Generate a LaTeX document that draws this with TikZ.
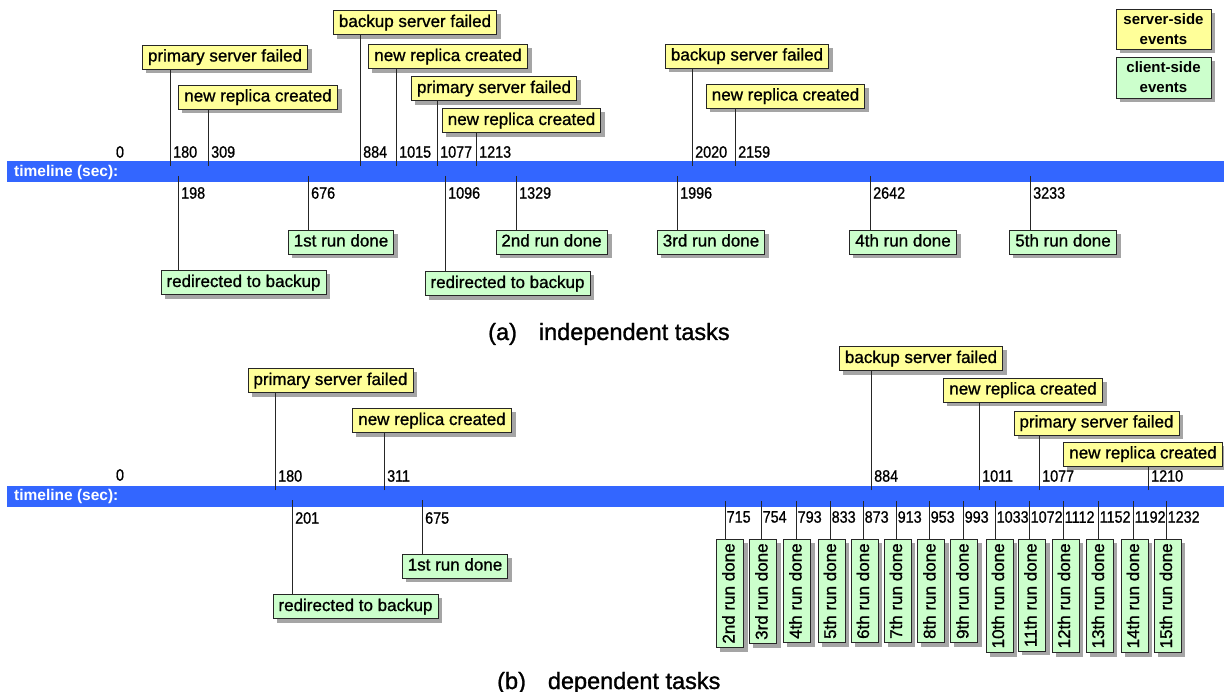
\documentclass[tikz,border=0pt]{standalone}
\usepackage{fontspec}
\setmainfont{Liberation Sans}
\newfontfamily\boxfam[FakeBold=1.0]{Liberation Sans}
\newfontfamily\numfam[FakeBold=0.9,FakeStretch=0.87]{Liberation Sans}
\newfontfamily\capfam[FakeBold=1.2]{Liberation Sans}
\usetikzlibrary{calc}
\definecolor{barblue}{RGB}{51,102,255}
\definecolor{srvyel}{RGB}{255,255,153}
\definecolor{cligrn}{RGB}{204,255,204}
\definecolor{shadowgray}{RGB}{165,165,165}
\newcommand\boxfnt{\boxfam\fontsize{17}{19}\selectfont}
\newcommand\numfnt{\numfam\fontsize{16.5}{18}\selectfont}
\newcommand\legfnt{\fontsize{15}{20}\selectfont\bfseries}
\newcommand\capfnt{\capfam\fontsize{23.5}{26}\selectfont}
\newcommand\tlfnt{\fontsize{15.5}{18}\selectfont\bfseries}
\pgfdeclarelayer{bglayer}
\pgfdeclarelayer{shlayer}
\pgfsetlayers{bglayer,shlayer,main}
\tikzset{
  evbox/.style={draw=black!85, line width=0.8pt, inner xsep=5.5pt, inner ysep=0pt,
    minimum height=24pt, text height=12.5pt, text depth=3.5pt, font=\boxfnt},
  srv/.style={evbox, fill=srvyel},
  cli/.style={evbox, fill=cligrn},
  vcli/.style={cli, rotate=90, anchor=east, minimum height=27pt, inner xsep=4pt},
  leg/.style={draw=black!85, line width=0.8pt, align=center, font=\legfnt,
    minimum width=95pt, inner sep=0pt},
  num/.style={font=\numfnt, inner sep=0pt, anchor=west},
  evline/.style={draw=black!85, line width=0.8pt},
  barnode/.style={fill=barblue, inner sep=0pt, minimum width=1217pt, minimum height=21pt, anchor=north west},
  tl/.style={font=\tlfnt, text=white, inner sep=0pt, anchor=west},
}
\begin{document}
\begin{tikzpicture}[x=1pt,y=-1pt]
\useasboundingbox (0,0) rectangle (1224,692);
\begin{pgfonlayer}{bglayer}
\fill[white] (0,0) rectangle (1224,692);
\end{pgfonlayer}

% ================= (a) independent tasks =================
\node[barnode] (barA) at (7,161) {};
\node[tl] (tlA) at (14,172) {timeline (sec):};
\node[font=\numfnt, inner sep=0pt] (zA) at (120,152) {0};

% server-side events
\node[srv] (S1) at (225,57) {primary server failed};
\node[srv] (S2) at (258,97) {new replica created};
\node[srv] (S3) at (415,22.5) {backup server failed};
\node[srv] (S4) at (448,56.5) {new replica created};
\node[srv] (S5) at (494,88.5) {primary server failed};
\node[srv] (S6) at (521.5,120.5) {new replica created};
\node[srv] (S7) at (747,56) {backup server failed};
\node[srv] (S8) at (785.5,96) {new replica created};

\foreach \n/\lx/\v in {1/170/180, 2/208/309, 3/360/884, 4/396/1015, 5/437/1077, 6/476/1213, 7/692/2020, 8/735/2159}{
  \coordinate (sa\n) at (\lx,166);
  \draw[evline] (sa\n) -- (sa\n |- S\n.south);
  \node[num] at (\lx+3,152) {\v};
}

% client-side events
\node[cli] (C1) at (243.5,282.5) {redirected to backup};
\node[cli] (C2) at (341,242) {1st run done};
\node[cli] (C3) at (507.5,283.5) {redirected to backup};
\node[cli] (C4) at (551.5,242) {2nd run done};
\node[cli] (C5) at (711,242) {3rd run done};
\node[cli] (C6) at (903,242) {4th run done};
\node[cli] (C7) at (1063,242) {5th run done};

\foreach \n/\lx/\v in {1/178/198, 2/308/676, 3/445/1096, 4/516/1329, 5/677/1996, 6/870/2642, 7/1030/3233}{
  \coordinate (ca\n) at (\lx,176);
  \draw[evline] (ca\n) -- (ca\n |- C\n.north);
  \node[num] at (\lx+3,193) {\v};
}

% legend
\node[leg, fill=srvyel, minimum height=40pt] (L1) at (1163.5,29) {server-side\\events};
\node[leg, fill=cligrn, minimum height=41pt] (L2) at (1163.5,77.5) {client-side\\events};

\node[font=\capfnt, inner sep=0pt, anchor=base west] (capA) at (488,340) {(a)\hspace{22pt}independent tasks};

% ================= (b) dependent tasks =================
\node[barnode] (barB) at (7,486) {};
\node[tl] (tlB) at (14,496) {timeline (sec):};
\node[font=\numfnt, inner sep=0pt] (zB) at (120,475) {0};

\node[srv] (B1) at (330.5,380.5) {primary server failed};
\node[srv] (B2) at (432,420.5) {new replica created};
\node[srv] (B3) at (921,358.5) {backup server failed};
\node[srv] (B4) at (1023,390) {new replica created};
\node[srv] (B5) at (1096.5,423) {primary server failed};
\node[srv] (B6) at (1143,454) {new replica created};

\foreach \n/\lx/\v in {1/275/180, 2/384/311, 3/871/884, 4/979/1011, 5/1039/1077, 6/1148/1210}{
  \coordinate (sb\n) at (\lx,490);
  \draw[evline] (sb\n) -- (sb\n |- B\n.south);
  \node[num] at (\lx+3,476) {\v};
}

\node[cli] (D1) at (355.5,606.5) {redirected to backup};
\node[cli] (D2) at (455,566) {1st run done};
\foreach \n/\lx/\v in {1/292/201, 2/422/675}{
  \coordinate (cb\n) at (\lx,500);
  \draw[evline] (cb\n) -- (cb\n |- D\n.north);
  \node[num] at (\lx+3,518) {\v};
}

\foreach \cx/\lx/\v/\t [count=\i] in {
  730/725/715/2nd, 763/761/754/3rd, 797/796/793/4th, 831.5/830/833/5th,
  864.5/863/873/6th, 897.5/896/913/7th, 931/929/953/8th, 964/963/993/9th,
  999.5/995/1033/10th, 1032/1029/1072/11th, 1065.5/1063/1112/12th,
  1099.5/1098/1152/13th, 1134.5/1133/1192/14th, 1167.5/1166/1232/15th}{
  \node[vcli] (V\i) at (\cx,539) {\t\ run done};
  \coordinate (vb\i) at (\lx,501);
  \draw[evline] (vb\i) -- (vb\i |- V\i.east);
  \node[num] at (\lx+1.5,517) {\v};
}

\node[font=\capfnt, inner sep=0pt, anchor=base west] (capB) at (497,689) {(b)\hspace{22pt}dependent tasks};

% ================= shadows =================
\begin{pgfonlayer}{shlayer}
\foreach \b in {S1,S2,S3,S4,S5,S6,S7,S8,C1,C2,C3,C4,C5,C6,C7,L1,L2,B1,B2,B3,B4,B5,B6,D1,D2,
  V1,V2,V3,V4,V5,V6,V7,V8,V9,V10,V11,V12,V13,V14}{
  \fill[shadowgray] ($(\b.south west)+(4,4)$) rectangle ($(\b.north east)+(4,4)$);
}
\end{pgfonlayer}
\end{tikzpicture}
\end{document}
